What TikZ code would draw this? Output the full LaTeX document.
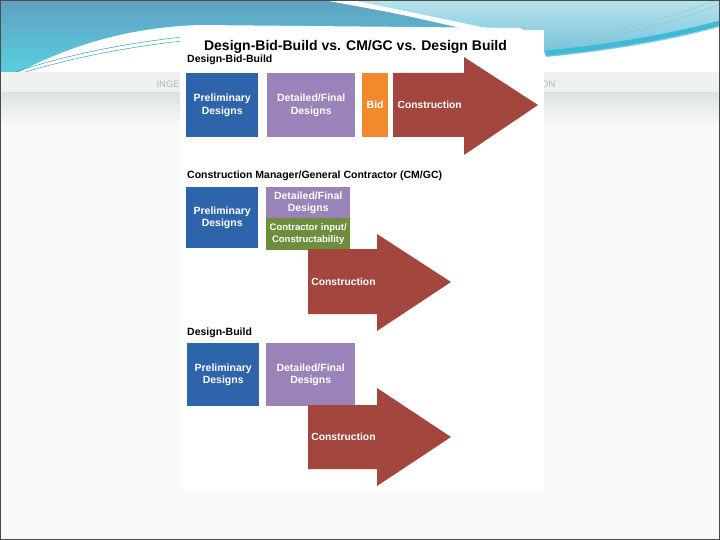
\documentclass[tikz,border=0pt]{standalone}
\usepackage{fontspec}
\setmainfont{Liberation Sans}
\definecolor{cBlue}{RGB}{46,100,170}
\definecolor{cPurple}{RGB}{154,131,185}
\definecolor{cOrange}{RGB}{240,138,44}
\definecolor{cRed}{RGB}{163,70,62}
\definecolor{cGreen}{RGB}{110,142,60}
\definecolor{skyA}{RGB}{95,160,192}
\definecolor{skyB}{RGB}{88,212,228}
\definecolor{skyL}{RGB}{182,227,236}
\definecolor{skyM}{RGB}{112,190,216}
\definecolor{skyC}{RGB}{60,186,214}
\definecolor{lineT}{RGB}{58,160,178}
\definecolor{bandG}{RGB}{239,240,240}
\definecolor{bandT}{RGB}{178,186,194}
\definecolor{fadeA}{RGB}{218,227,226}
\definecolor{fadeB}{RGB}{248,249,249}
\begin{document}
\begin{tikzpicture}[x=1pt,y=-1pt,
  box/.style={inner sep=0pt, align=center, text=white, anchor=north west,
    font=\fontsize{10.5}{12.5}\selectfont\bfseries},
  smallbox/.style={box, font=\fontsize{9.5}{11.5}\selectfont\bfseries},
  lbl/.style={inner sep=0pt, anchor=base west, font=\fontsize{10.5}{12.5}\selectfont\bfseries},
  arrowtext/.style={inner sep=0pt, text=white, font=\fontsize{10.3}{12}\selectfont\bfseries},
  bigarrow/.style={fill=cRed}]
\useasboundingbox (0,0) rectangle (720,540);
% ---------- slide background ----------
\fill[fadeB] (0,0) rectangle (720,540);
\shade[top color=skyA, bottom color=skyB] (0,0) rectangle (720,80);
\shade[top color=skyL, bottom color=skyM] (352,0) -- (720,0) -- (720,60) -- (520,60) -- (500,32) .. controls (420,14) .. (352,0) -- cycle;
\fill[white] (323,0) -- (352,0) .. controls (420,14) .. (505,32) -- (478,32) .. controls (400,14) .. (323,0) -- cycle;
\fill[white] (0,82) .. controls (50,55) and (110,28) .. (200,25) -- (520,28) .. controls (538,40) and (544,52) .. (546,57)
  .. controls (620,50) and (680,38) .. (720,27) -- (720,93) -- (0,93) -- cycle;
\draw[skyC, line width=5pt] (546,53) .. controls (620,46) and (680,34) .. (720,23);
\draw[lineT, line width=0.5pt] (0,77) .. controls (60,56) and (120,44) .. (182,37);
\draw[lineT, line width=0.5pt] (0,80) .. controls (60,60) and (120,48) .. (182,41);
\draw[lineT!60, line width=0.4pt] (548,47) .. controls (620,38) and (680,20) .. (720,4);
\draw[lineT!60, line width=0.4pt] (548,44) .. controls (620,33) and (680,14) .. (716,0);
\fill[bandG] (0,72) rectangle (720,93);
\shade[top color=fadeA, bottom color=fadeB] (0,93) rectangle (720,125);
\node[inner sep=0pt, anchor=base east, text=bandT, font=\fontsize{9.5}{11}\selectfont] (ing) at (180,88) {INGE};
\node[inner sep=0pt, anchor=base west, text=bandT, font=\fontsize{9.5}{11}\selectfont] (on) at (541,88) {ON};
\draw[gray!60!black, line width=1pt] (0.5,0.5) rectangle (719.5,539.5);
% ---------- picture panel ----------
\fill[white] (180,30) rectangle (544,491);
\node[inner sep=0pt, anchor=base, font=\fontsize{14}{16}\selectfont\bfseries] (title) at (355.5,50.7)
  {Design-Bid-Build vs. CM/GC vs. Design Build};
% ---------- Design-Bid-Build ----------
\node[lbl] (l1) at (187,63) {Design-Bid-Build};
\node[box, fill=cBlue, minimum width=72pt, minimum height=64pt] (p1) at (186,73) {Preliminary\\Designs};
\node[box, fill=cPurple, minimum width=88pt, minimum height=64pt] (d1) at (267,73) {Detailed/Final\\Designs};
\node[box, fill=cOrange, minimum width=26pt, minimum height=64pt] (bid) at (362,73) {Bid};
\fill[bigarrow] (393,73) -- (464,73) -- (464,57) -- (538,105) -- (464,155) -- (464,137) -- (393,137) -- cycle;
\node[arrowtext, anchor=west] (c1) at (397.5,105) {Construction};
% ---------- CM/GC ----------
\node[lbl] (l2) at (187,179) {Construction Manager/General Contractor (CM/GC)};
\node[box, fill=cBlue, minimum width=72pt, minimum height=61pt] (p2) at (186,187) {Preliminary\\Designs};
\node[box, fill=cPurple, minimum width=84pt, minimum height=31pt] (d2) at (266,187) {Detailed/Final\\Designs};
\node[smallbox, fill=cGreen, minimum width=84pt, minimum height=32pt] (g2) at (266,218) {Contractor input/\\Constructability};
\fill[bigarrow] (308,249) -- (377,249) -- (377,234) -- (451,282) -- (377,331) -- (377,314) -- (308,314) -- cycle;
\node[arrowtext] (c2) at (343.5,282) {Construction};
% ---------- Design-Build ----------
\node[lbl] (l3) at (187,335) {Design-Build};
\node[box, fill=cBlue, minimum width=72pt, minimum height=63pt] (p3) at (187,343) {Preliminary\\Designs};
\node[box, fill=cPurple, minimum width=89pt, minimum height=63pt] (d3) at (266,343) {Detailed/Final\\Designs};
\fill[bigarrow] (308,405) -- (377,405) -- (377,388) -- (451,437) -- (377,486) -- (377,469) -- (308,469) -- cycle;
\node[arrowtext] (c3) at (343.5,437) {Construction};
\end{tikzpicture}
\end{document}
